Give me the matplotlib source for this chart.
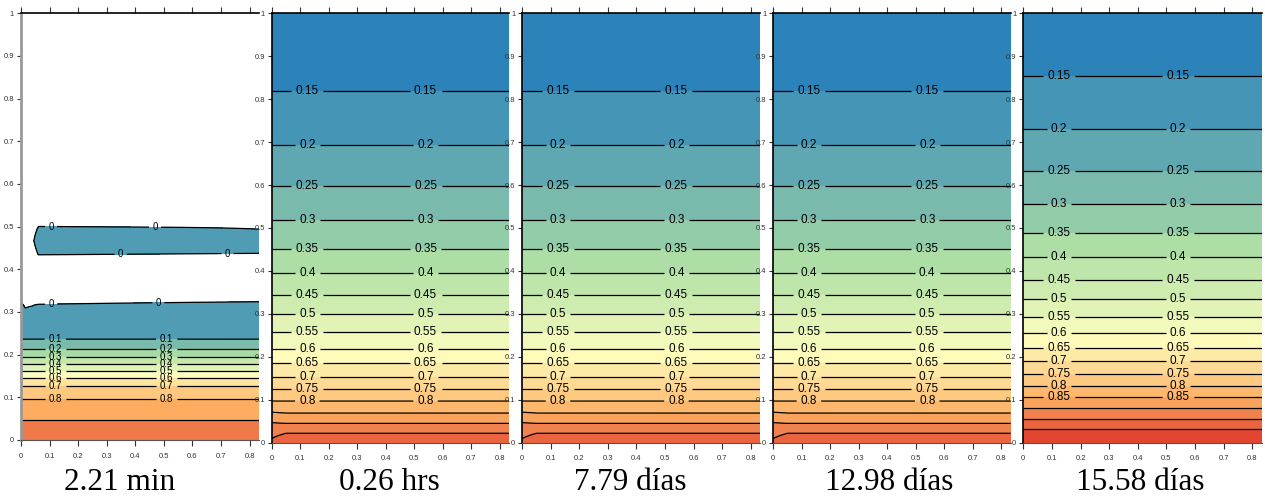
import numpy as np
import matplotlib.pyplot as plt
from matplotlib.colors import LinearSegmentedColormap, Normalize
from matplotlib.ticker import FormatStrFormatter

titles = ["2.21 min", "0.26 hrs", "7.79 días", "12.98 días", "15.58 días"]

# ---- panel 1 (2.21 min): value profiles (height, value) at a few x stations
p1_x = [0.0, 0.015, 0.04, 0.06, 0.833]
p1_low_h = [0.0, 0.047, 0.096, 0.127, 0.146, 0.162, 0.179, 0.194, 0.2125, 0.236]
p1_low_v = [0.98, 0.9, 0.8, 0.7, 0.6, 0.5, 0.4, 0.3, 0.2, 0.1]
p1_top = [
    ([0.322, 0.38, 1.0], [0.0, -0.05, -0.1]),
    ([0.309, 0.38, 1.0], [0.0, -0.05, -0.1]),
    ([0.314, 0.40, 0.467, 0.55, 1.0], [0.0, -0.05, -0.01, -0.05, -0.1]),
    ([0.318, 0.38, 0.434, 0.467, 0.50, 1.0], [0.0, -0.05, 0.0, 0.03, 0.0, -0.1]),
    ([0.324, 0.38, 0.4375, 0.466, 0.494, 1.0], [0.0, -0.05, 0.0, 0.03, 0.0, -0.1]),
]
p1_levels = [0.0, 0.1, 0.2, 0.3, 0.4, 0.5, 0.6, 0.7, 0.8, 0.9, 1.0]
p1_lines = [0.0, 0.1, 0.2, 0.3, 0.4, 0.5, 0.6, 0.7, 0.8, 0.9]
p1_labels = [0.0, 0.1, 0.2, 0.3, 0.4, 0.5, 0.6, 0.7, 0.8]

# ---- panels 2-4 (same profile)
mid_h = [0.0, 0.022, 0.045, 0.069, 0.097, 0.124, 0.153, 0.185, 0.219, 0.257,
         0.299, 0.344, 0.395, 0.452, 0.519, 0.598, 0.693, 0.819, 1.0]
mid_v = [0.99, 0.95, 0.9, 0.85, 0.8, 0.75, 0.7, 0.65, 0.6, 0.55,
         0.5, 0.45, 0.4, 0.35, 0.3, 0.25, 0.2, 0.15, 0.12]
mid_left_h = [0.0, 0.010, 0.047, 0.071, 0.097, 0.124, 0.153, 0.185, 0.219, 0.257,
              0.299, 0.344, 0.395, 0.452, 0.519, 0.598, 0.693, 0.819, 1.0]
mid_levels = [0.1, 0.15, 0.2, 0.25, 0.3, 0.35, 0.4, 0.45, 0.5, 0.55,
              0.6, 0.65, 0.7, 0.75, 0.8, 0.85, 0.9, 0.95, 1.0]
mid_lines = mid_levels[1:-1]
mid_labels = [0.15, 0.2, 0.25, 0.3, 0.35, 0.4, 0.45, 0.5, 0.55, 0.6, 0.65, 0.7, 0.75, 0.8]

# ---- panel 5 (15.58 dias)
p5_h = [0.0, 0.031, 0.056, 0.080, 0.106, 0.132, 0.160, 0.190, 0.221, 0.256,
        0.293, 0.335, 0.380, 0.432, 0.488, 0.555, 0.633, 0.730, 0.854, 1.0]
p5_v = [1.04, 1.0, 0.95, 0.9, 0.85, 0.8, 0.75, 0.7, 0.65, 0.6,
        0.55, 0.5, 0.45, 0.4, 0.35, 0.3, 0.25, 0.2, 0.15, 0.12]
p5_levels = mid_levels + [1.05]
p5_lines = p5_levels[1:-1]
p5_labels = mid_labels + [0.85]


def build_field(xs, profiles, X, Y):
    cols = np.array([np.interp(Y, h, v) for h, v in profiles])
    Z = np.empty((len(Y), len(X)))
    for j in range(len(Y)):
        Z[j] = np.interp(X, xs, cols[:, j])
    return Z


X = np.linspace(0, 0.833, 300)
Y = np.linspace(0, 1, 800)

z1 = build_field(p1_x, [(p1_low_h + h, p1_low_v + v) for h, v in p1_top], X, Y)
z_mid = build_field([0.0, 0.05, 0.833],
                    [(mid_left_h, mid_v), (mid_h, mid_v), (mid_h, mid_v)], X, Y)
z5 = build_field([0.0, 0.833], [(p5_h, p5_v), (p5_h, p5_v)], X, Y)

cmap = LinearSegmentedColormap.from_list(
    "spec5", ["#2b83ba", "#abdda4", "#ffffbf", "#fdae61", "#d7191c"])

fig = plt.figure(figsize=(12.65, 4.97), dpi=100)
W, H = 1265, 497

# pixel boxes: left, right, top, bottom
boxes = [(21, 259, 13.3, 440), (271.7, 509, 13.3, 442.7), (522.3, 760, 13.3, 442.7),
         (773.3, 1010.7, 13.3, 442.7), (1023.3, 1261.7, 13.3, 442.7)]
title_x = [119.5, 389, 630, 889.5, 1140]

panels = [
    (z1, p1_levels, p1_lines, p1_labels, Normalize(-0.035, 1.14), 7),
    (z_mid, mid_levels, mid_lines, mid_labels, Normalize(0.125, 1.10), 8.5),
    (z_mid, mid_levels, mid_lines, mid_labels, Normalize(0.125, 1.10), 8.5),
    (z_mid, mid_levels, mid_lines, mid_labels, Normalize(0.125, 1.10), 8.5),
    (z5, p5_levels, p5_lines, p5_labels, Normalize(0.125, 1.10), 8.5),
]

for i, (Z, lev, lines, labs, norm, fs) in enumerate(panels):
    l, r, t, b = boxes[i]
    ax = fig.add_axes([l / W, (H - b) / H, (r - l) / W, (b - t) / H])
    ax.contourf(X, Y, Z, levels=lev, cmap=cmap, norm=norm)
    cs = ax.contour(X, Y, Z, levels=lines, colors="black", linewidths=0.9)

    # label positions: two per line
    pos = []
    for v in labs:
        if i == 0:
            if v == 0.0:
                pos += [(0.105, 0.50), (0.469, 0.499), (0.349, 0.435),
                        (0.723, 0.437), (0.105, 0.319), (0.481, 0.321)]
                continue
            h = np.interp(v, p1_low_v[::-1], p1_low_h[::-1])
            pos += [(0.12, h), (0.51, h)]
        else:
            hh = p5_h if i == 4 else mid_h
            vv = p5_v if i == 4 else mid_v
            h = np.interp(v, vv[::-1], hh[::-1])
            pos += [(0.125, h), (0.54, h)]
    txts = ax.clabel(cs, levels=labs, manual=pos, inline=True, fontsize=fs,
                     fmt=lambda v: f"{v:g}", inline_spacing=3)
    for tx in txts:
        tx.set_fontfamily("Liberation Sans")

    ax.set_xlim(0, 0.833)
    ax.set_ylim(0, 1)
    ax.set_xticks([0, 0.1, 0.2, 0.3, 0.4, 0.5, 0.6, 0.7, 0.8])
    ax.set_yticks([0, 0.1, 0.2, 0.3, 0.4, 0.5, 0.6, 0.7, 0.8, 0.9, 1])
    ax.xaxis.set_major_formatter(FormatStrFormatter("%g"))
    ax.yaxis.set_major_formatter(FormatStrFormatter("%g"))
    ax.tick_params(axis="both", direction="out", length=3, width=0.8,
                   labelsize=5.5, pad=2, color="#333333")
    ax.tick_params(axis="x", top=True, labeltop=False, length=4, pad=5)
    for lab in ax.get_xticklabels() + ax.get_yticklabels():
        lab.set_fontfamily("Liberation Sans")
        lab.set_color("#333333")

    ax.spines["right"].set_visible(False)
    ax.spines["top"].set_linewidth(1.2)
    ax.spines["bottom"].set_linewidth(0.8)
    ax.spines["bottom"].set_color("#555555")
    if i == 0:
        ax.spines["left"].set_color("#999999")
        ax.spines["left"].set_linewidth(2)
    else:
        ax.spines["left"].set_linewidth(1.2)

    fig.text(title_x[i] / W, (H - 490.5) / H, titles[i], ha="center",
             va="baseline", fontsize=22.5, family="Liberation Serif")

fig.savefig("out.png", dpi=100)
